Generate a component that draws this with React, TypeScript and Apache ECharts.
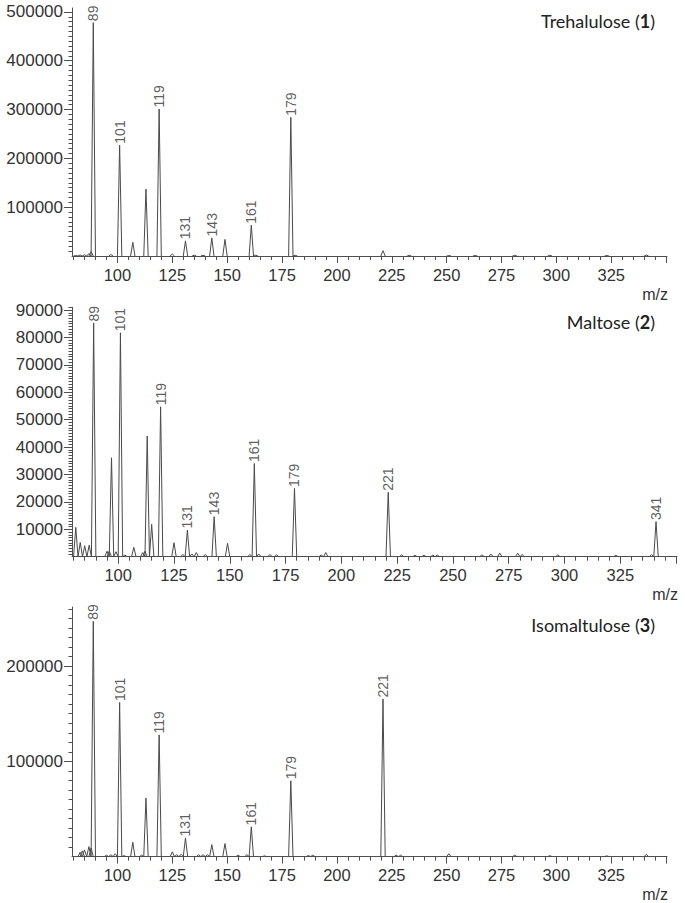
import React, { useEffect, useRef } from 'react';
import * as echarts from 'echarts';

// ---------- data (m/z, intensity) ----------
const trehaluloseMz = [81, 83, 85, 87, 88, 89, 97, 101, 107, 113, 119, 125, 131, 135, 139, 143, 149, 161, 163, 179, 181, 221, 233, 251, 263, 281, 297, 323, 341];
const trehaluloseInt = [1000, 2000, 2500, 5000, 9000, 478000, 3000, 227000, 28000, 137000, 301000, 4000, 31000, 1500, 1500, 37000, 34000, 63000, 1500, 284000, 1500, 11000, 1500, 1000, 1000, 1500, 1500, 1000, 2000];
const trehaluloseLabels = [89, 101, 119, 131, 143, 161, 179];

const maltoseMz = [81, 83, 85, 87, 89, 95, 96, 97, 99, 101, 103, 107, 111, 112, 113, 115, 119, 125, 129, 131, 133, 135, 139, 143, 149, 159, 161, 163, 168, 171, 179, 191, 193, 221, 227, 233, 237, 241, 243, 263, 267, 271, 279, 281, 297, 323, 339, 341];
const maltoseInt = [10700, 5200, 4000, 4200, 85300, 2000, 2000, 36100, 1800, 81700, 600, 3400, 1500, 2000, 44000, 11800, 54700, 5100, 800, 9700, 1000, 1500, 800, 14600, 4900, 800, 34000, 1000, 800, 700, 24900, 600, 1500, 23500, 700, 500, 500, 600, 600, 700, 1000, 1300, 1300, 800, 700, 500, 800, 12800];
const maltoseLabels = [89, 101, 119, 131, 143, 161, 179, 221, 341];

const isomaltuloseMz = [83, 84, 85, 87, 88, 89, 95, 97, 99, 101, 103, 107, 111, 113, 119, 125, 127, 129, 131, 137, 139, 141, 143, 149, 155, 159, 161, 167, 179, 187, 189, 221, 227, 229, 251, 281, 297, 323, 341];
const isomaltuloseInt = [4500, 6000, 7000, 10500, 9000, 247000, 1500, 2000, 3000, 161800, 1000, 15000, 1500, 61400, 127700, 5000, 2000, 2500, 19600, 2000, 2000, 2000, 12600, 13700, 1500, 2000, 31200, 800, 79600, 1200, 1500, 165300, 1500, 1500, 3000, 1500, 1000, 800, 2500];
const isomaltuloseLabels = [89, 101, 119, 131, 161, 179, 221];

const xMajorTicks = [100, 125, 150, 175, 200, 225, 250, 275, 300, 325, 350];
const xTickLabels = [100, 125, 150, 175, 200, 225, 250, 275, 300, 325];

const panelNames = ['Trehalulose', 'Maltose', 'Isomaltulose'];
const panelNumbers = ['1', '2', '3'];
const yLabelStep = [100000, 10000, 100000];
const yMinorStep = [10000, 1000, 10000];
const yMax = [508000, 91000, 262000];

const X_MIN = 79.3;
const X_MAX = 350.4;
const HALF = 1.0;

const FONT = '"Liberation Sans", Arial, sans-serif';
const AXIS_COLOR = '#4f4f4f';
const TEXT_COLOR = '#333';

function range(step: number, max: number, skip?: number): number[] {
  const out: number[] = [];
  for (let v = step; v <= max + 1e-9; v += step) {
    if (skip && Math.abs(v / skip - Math.round(v / skip)) < 1e-9) continue;
    out.push(v);
  }
  return out;
}

export default function App() {
  const ref = useRef<HTMLDivElement>(null);

  useEffect(() => {
    if (!ref.current) return;
    const chart = echarts.init(ref.current, null, { renderer: 'svg' });

    const grids = [
      { left: 72, top: 8, width: 595, height: 248 },
      { left: 72, top: 307.3, width: 605, height: 249.4 },
      { left: 72, top: 607, width: 595, height: 249.6 },
    ];
    const mzs = [trehaluloseMz, maltoseMz, isomaltuloseMz];
    const ints = [trehaluloseInt, maltoseInt, isomaltuloseInt];
    const labs = [trehaluloseLabels, maltoseLabels, isomaltuloseLabels];

    const minorX = range(5, 345, 25).filter((v) => v >= 80);

    const xAxis: any[] = [];
    const yAxis: any[] = [];
    const series: any[] = [];
    const graphic: any[] = [];

    grids.forEach((g, i) => {
      xAxis.push({
        type: 'value', gridIndex: i, min: X_MIN, max: X_MAX, position: 'bottom',
        axisLine: { show: true, lineStyle: { color: AXIS_COLOR, width: 1 } },
        axisTick: { show: true, length: 7, customValues: xMajorTicks, lineStyle: { color: AXIS_COLOR } },
        axisLabel: { show: true, customValues: xTickLabels, margin: 10, fontSize: 16.5, color: TEXT_COLOR, fontFamily: FONT },
        splitLine: { show: false },
      });
      xAxis.push({
        type: 'value', gridIndex: i, min: X_MIN, max: X_MAX, position: 'bottom',
        axisLine: { show: false },
        axisTick: { show: true, length: 4, customValues: minorX, lineStyle: { color: AXIS_COLOR } },
        axisLabel: { show: false },
        splitLine: { show: false },
      });
      const majY = range(yLabelStep[i], yMax[i]);
      const minY = range(yMinorStep[i], yMax[i], yLabelStep[i]);
      yAxis.push({
        type: 'value', gridIndex: i, min: 0, max: yMax[i], position: 'left',
        axisLine: { show: true, lineStyle: { color: AXIS_COLOR, width: 1 } },
        axisTick: { show: true, length: 8, customValues: majY, lineStyle: { color: AXIS_COLOR } },
        axisLabel: { show: true, customValues: majY, margin: 9, fontSize: 17, color: TEXT_COLOR, fontFamily: FONT, formatter: (v: number) => String(v) },
        splitLine: { show: false },
      });
      yAxis.push({
        type: 'value', gridIndex: i, min: 0, max: yMax[i], position: 'left',
        axisLine: { show: false },
        axisTick: { show: true, length: 3.5, customValues: minY, lineStyle: { color: AXIS_COLOR } },
        axisLabel: { show: false },
        splitLine: { show: false },
      });

      const data = mzs[i].map((m, k) => [m, ints[i][k]]);
      series.push({
        type: 'custom',
        xAxisIndex: i * 2,
        yAxisIndex: i * 2,
        encode: { x: 0, y: 1 },
        data,
        renderItem: (_p: any, api: any) => {
          const m = api.value(0);
          const h = api.value(1);
          const a = api.coord([m - HALF, 0]);
          const t = api.coord([m, h]);
          const b = api.coord([m + HALF, 0]);
          return {
            type: 'polyline',
            shape: { points: [a, t, b] },
            style: { stroke: '#4a4a4a', lineWidth: 1, fill: 'none' },
          };
        },
        silent: true,
        z: 3,
      });
      const labelData = labs[i].map((m) => [m, ints[i][mzs[i].indexOf(m)]]);
      series.push({
        type: 'scatter',
        xAxisIndex: i * 2,
        yAxisIndex: i * 2,
        data: labelData,
        symbol: 'circle',
        symbolSize: 1,
        itemStyle: { color: 'rgba(0,0,0,0)' },
        silent: true,
        z: 4,
        label: {
          show: true,
          position: 'top',
          distance: 1,
          rotate: 90,
          align: 'left',
          verticalAlign: 'middle',
          fontSize: 14,
          fontFamily: FONT,
          color: TEXT_COLOR,
          formatter: (p: any) => String(p.value[0]),
        },
        labelLayout: { hideOverlap: false },
      });

      const right = g.left + g.width;
      const base = g.top + g.height;
      graphic.push({
        type: 'text',
        x: right + 1,
        y: base + 38,
        style: { text: 'm/z', font: `16px ${FONT}`, fill: TEXT_COLOR, align: 'right', verticalAlign: 'middle' },
      });
    });

    const titleY = [20.5, 322, 625];
    titleY.forEach((y, i) => {
      graphic.push({
        type: 'text',
        x: 655,
        y,
        style: {
          text: `{n|${panelNames[i]} (}{b|${panelNumbers[i]}}{n|)}`,
          align: 'right',
          verticalAlign: 'middle',
          rich: {
            n: { fontSize: 18, fontFamily: 'Lato, "Open Sans", sans-serif', fill: '#222', color: '#222' },
            b: { fontSize: 18, fontFamily: 'Lato, "Open Sans", sans-serif', fontWeight: 'bold', fill: '#222', color: '#222' },
          },
        },
      });
    });

    chart.setOption({
      animation: false,
      backgroundColor: '#fff',
      grid: grids,
      xAxis,
      yAxis,
      series,
      graphic,
    });

    return () => chart.dispose();
  }, []);

  return (
    <div
      ref={ref}
      style={{ position: 'absolute', left: 0, top: 0, width: 685, height: 903, background: '#fff' }}
    />
  );
}
